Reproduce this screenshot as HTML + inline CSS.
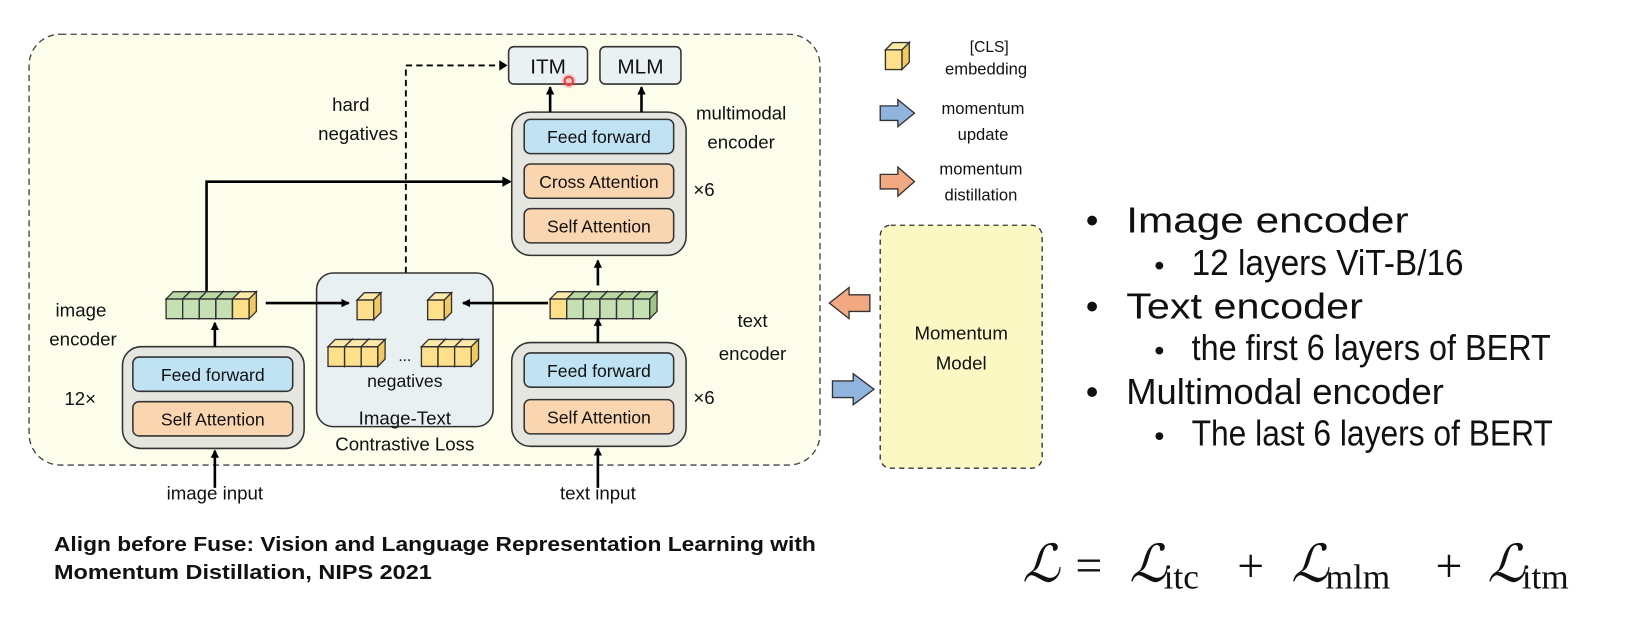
<!DOCTYPE html>
<html><head><meta charset="utf-8"><style>
html,body{margin:0;padding:0;background:#fff;}
svg{display:block;}
text{font-family:"Liberation Sans",sans-serif;fill:#111;}
</style></head><body>
<svg width="1628" height="621" viewBox="0 0 1628 621" xmlns="http://www.w3.org/2000/svg">
<defs>
<marker id="ah" markerWidth="8" markerHeight="8" refX="7" refY="4" orient="auto" markerUnits="userSpaceOnUse">
<path d="M0,0 L8,4 L0,8 z" fill="#000"/></marker>
<g id="cg">
<rect x="0" y="0" width="16" height="19" fill="#c5e0b3" stroke="#333" stroke-width="1.3"/>
<path d="M0,0 L7,-7 L23,-7 L16,0 z" fill="#b7d7a3" stroke="#333" stroke-width="1.3"/>
<path d="M16,0 L23,-7 L23,12 L16,19 z" fill="#9fc58a" stroke="#333" stroke-width="1.3"/>
</g>
<g id="cy">
<rect x="0" y="0" width="16" height="19" fill="#ffe08a" stroke="#333" stroke-width="1.3"/>
<path d="M0,0 L7,-7 L23,-7 L16,0 z" fill="#fde9a8" stroke="#333" stroke-width="1.3"/>
<path d="M16,0 L23,-7 L23,12 L16,19 z" fill="#f1c95c" stroke="#333" stroke-width="1.3"/>
</g>
</defs>
<g transform="scale(1.038)">
<rect x="28" y="33" width="762" height="415" rx="30" fill="#fdfdec" stroke="#444" stroke-width="1.3" stroke-dasharray="6,4"/>

<rect x="490" y="45" width="76" height="36" rx="5" fill="#eaf1f3" stroke="#333" stroke-width="1.5"/>
<text x="528" y="71" font-size="20" text-anchor="middle">ITM</text>
<rect x="578" y="45" width="78" height="36" rx="5" fill="#eaf1f3" stroke="#333" stroke-width="1.5"/>
<text x="617" y="71" font-size="20" text-anchor="middle">MLM</text>
<circle cx="548" cy="78" r="4" fill="none" stroke="#e33" stroke-width="2"/>
<circle cx="548" cy="78" r="7" fill="#f55" opacity="0.25"/>

<rect x="493" y="108" width="168" height="138" rx="18" fill="#e6e6e0" stroke="#333" stroke-width="1.5"/>
<rect x="505" y="115" width="144" height="33" rx="6" fill="#bfe3f3" stroke="#333" stroke-width="1.5"/>
<text x="577" y="138" font-size="17" text-anchor="middle">Feed forward</text>
<rect x="505" y="158" width="144" height="33" rx="6" fill="#f9d6b0" stroke="#333" stroke-width="1.5"/>
<text x="577" y="181" font-size="17" text-anchor="middle">Cross Attention</text>
<rect x="505" y="201" width="144" height="33" rx="6" fill="#f9d6b0" stroke="#333" stroke-width="1.5"/>
<text x="577" y="224" font-size="17" text-anchor="middle">Self Attention</text>
<text x="714" y="115" font-size="18" text-anchor="middle">multimodal</text>
<text x="714" y="143" font-size="18" text-anchor="middle">encoder</text>
<text x="668" y="189" font-size="18">×6</text>

<line x1="530" y1="108" x2="530" y2="84" stroke="#000" stroke-width="2.5" marker-end="url(#ah)"/>
<line x1="618" y1="108" x2="618" y2="84" stroke="#000" stroke-width="2.5" marker-end="url(#ah)"/>

<text x="338" y="107" font-size="18" text-anchor="middle">hard</text>
<text x="345" y="135" font-size="18" text-anchor="middle">negatives</text>
<polyline points="391,263 391,63 484,63" fill="none" stroke="#000" stroke-width="1.8" stroke-dasharray="6,4"/>
<path d="M481,58 L489,63 L481,68 z" fill="#000"/>

<polyline points="199,290 199,175 486,175" fill="none" stroke="#000" stroke-width="2.5"/>
<path d="M484,170 L493,175 L484,180 z" fill="#000"/>

<rect x="305" y="263" width="170" height="148" rx="16" fill="#e9f0f2" stroke="#333" stroke-width="1.5"/>
<text x="390" y="373" font-size="17" text-anchor="middle">negatives</text>
<text x="390" y="409" font-size="18" text-anchor="middle">Image-Text</text>
<text x="390" y="434" font-size="18" text-anchor="middle">Contrastive Loss</text>
<use href="#cy" x="344" y="289"/>
<use href="#cy" x="412" y="289"/>
<use href="#cy" x="316" y="334"/><use href="#cy" x="332" y="334"/><use href="#cy" x="348" y="334"/>
<text x="390" y="348" font-size="15" text-anchor="middle">...</text>
<use href="#cy" x="406" y="334"/><use href="#cy" x="422" y="334"/><use href="#cy" x="438" y="334"/>

<use href="#cg" x="160" y="288"/><use href="#cg" x="176" y="288"/><use href="#cg" x="192" y="288"/><use href="#cg" x="208" y="288"/><use href="#cy" x="224" y="288"/>
<line x1="256" y1="292" x2="336" y2="292" stroke="#000" stroke-width="2.5" marker-end="url(#ah)"/>

<use href="#cy" x="530" y="288"/><use href="#cg" x="546" y="288"/><use href="#cg" x="562" y="288"/><use href="#cg" x="578" y="288"/><use href="#cg" x="594" y="288"/><use href="#cg" x="610" y="288"/>
<line x1="528" y1="292" x2="446" y2="292" stroke="#000" stroke-width="2.5" marker-end="url(#ah)"/>
<line x1="576" y1="275" x2="576" y2="251" stroke="#000" stroke-width="2.5" marker-end="url(#ah)"/>

<text x="78" y="305" font-size="18" text-anchor="middle">image</text>
<text x="80" y="333" font-size="18" text-anchor="middle">encoder</text>
<text x="62" y="390" font-size="18">12×</text>
<rect x="118" y="334" width="175" height="98" rx="18" fill="#e6e6e0" stroke="#333" stroke-width="1.5"/>
<rect x="128" y="344" width="154" height="33" rx="6" fill="#bfe3f3" stroke="#333" stroke-width="1.5"/>
<text x="205" y="367" font-size="17" text-anchor="middle">Feed forward</text>
<rect x="128" y="387" width="154" height="33" rx="6" fill="#f9d6b0" stroke="#333" stroke-width="1.5"/>
<text x="205" y="410" font-size="17" text-anchor="middle">Self Attention</text>
<line x1="207" y1="334" x2="207" y2="311" stroke="#000" stroke-width="2.5" marker-end="url(#ah)"/>
<line x1="207" y1="470" x2="207" y2="434" stroke="#000" stroke-width="2.5" marker-end="url(#ah)"/>
<text x="207" y="481" font-size="18" text-anchor="middle">image input</text>

<text x="725" y="315" font-size="18" text-anchor="middle">text</text>
<text x="725" y="347" font-size="18" text-anchor="middle">encoder</text>
<text x="668" y="389" font-size="18">×6</text>
<rect x="493" y="330" width="168" height="100" rx="18" fill="#e6e6e0" stroke="#333" stroke-width="1.5"/>
<rect x="505" y="340" width="144" height="33" rx="6" fill="#bfe3f3" stroke="#333" stroke-width="1.5"/>
<text x="577" y="363" font-size="17" text-anchor="middle">Feed forward</text>
<rect x="505" y="385" width="144" height="33" rx="6" fill="#f9d6b0" stroke="#333" stroke-width="1.5"/>
<text x="577" y="408" font-size="17" text-anchor="middle">Self Attention</text>
<line x1="576" y1="330" x2="576" y2="307" stroke="#000" stroke-width="2.5" marker-end="url(#ah)"/>
<line x1="576" y1="470" x2="576" y2="432" stroke="#000" stroke-width="2.5" marker-end="url(#ah)"/>
<text x="576" y="481" font-size="18" text-anchor="middle">text input</text>

<use href="#cy" x="853" y="48"/>
<text x="953" y="50" font-size="15" text-anchor="middle">[CLS]</text>
<text x="950" y="72" font-size="16" text-anchor="middle">embedding</text>
<path d="M848,102 L865,102 L865,96 L881,109 L865,122 L865,116 L848,116 z" fill="#8fb4de" stroke="#333" stroke-width="1.3"/>
<text x="947" y="110" font-size="16" text-anchor="middle">momentum</text>
<text x="947" y="135" font-size="16" text-anchor="middle">update</text>
<path d="M848,168 L865,168 L865,161 L881,175 L865,189 L865,182 L848,182 z" fill="#f2a982" stroke="#333" stroke-width="1.3"/>
<text x="945" y="168" font-size="16" text-anchor="middle">momentum</text>
<text x="945" y="193" font-size="16" text-anchor="middle">distillation</text>

<rect x="848" y="217" width="156" height="234" rx="10" fill="#fbf8c4" stroke="#333" stroke-width="1.3" stroke-dasharray="5,4"/>
<text x="926" y="327" font-size="18" text-anchor="middle">Momentum</text>
<text x="926" y="356" font-size="18" text-anchor="middle">Model</text>
<path d="M838,284 L818,284 L818,277 L799,292 L818,307 L818,300 L838,300 z" fill="#f2a982" stroke="#333" stroke-width="1.3"/>
<path d="M802,367 L822,367 L822,360 L842,375 L822,390 L822,383 L802,383 z" fill="#8fb4de" stroke="#333" stroke-width="1.3"/>

<g font-size="35">
<text x="1046" y="224">•</text><text x="1085" y="224" textLength="272" lengthAdjust="spacingAndGlyphs">Image encoder</text>
<text x="1112" y="265" font-size="28">•</text><text x="1148" y="265" textLength="262" lengthAdjust="spacingAndGlyphs">12 layers ViT-B/16</text>
<text x="1046" y="307">•</text><text x="1085" y="307" textLength="228" lengthAdjust="spacingAndGlyphs">Text encoder</text>
<text x="1112" y="347" font-size="28">•</text><text x="1148" y="347" textLength="346" lengthAdjust="spacingAndGlyphs">the first 6 layers of BERT</text>
<text x="1046" y="389">•</text><text x="1085" y="389" textLength="306" lengthAdjust="spacingAndGlyphs">Multimodal encoder</text>
<text x="1112" y="429" font-size="28">•</text><text x="1148" y="429" textLength="348" lengthAdjust="spacingAndGlyphs">The last 6 layers of BERT</text>
</g>

<text x="52" y="531" font-size="20" font-weight="bold" textLength="734" lengthAdjust="spacingAndGlyphs">Align before Fuse: Vision and Language Representation Learning with</text>
<text x="52" y="558" font-size="20" font-weight="bold" textLength="364" lengthAdjust="spacingAndGlyphs">Momentum Distillation, NIPS 2021</text>

<g>
<text x="985" y="560" font-size="50" font-style="italic" style="font-family:'Liberation Serif',serif">ℒ</text>
<text x="1036" y="560" font-size="46" style="font-family:'Liberation Serif',serif">=</text>
<text x="1088" y="560" font-size="50" font-style="italic" style="font-family:'Liberation Serif',serif">ℒ</text>
<text x="1121" y="567" font-size="34" style="font-family:'Liberation Serif',serif">itc</text>
<text x="1192" y="560" font-size="46" style="font-family:'Liberation Serif',serif">+</text>
<text x="1244" y="560" font-size="50" font-style="italic" style="font-family:'Liberation Serif',serif">ℒ</text>
<text x="1277" y="567" font-size="34" style="font-family:'Liberation Serif',serif">mlm</text>
<text x="1383" y="560" font-size="46" style="font-family:'Liberation Serif',serif">+</text>
<text x="1433" y="560" font-size="50" font-style="italic" style="font-family:'Liberation Serif',serif">ℒ</text>
<text x="1466" y="567" font-size="34" style="font-family:'Liberation Serif',serif">itm</text>
</g>
</g>
</svg>
</body></html>
